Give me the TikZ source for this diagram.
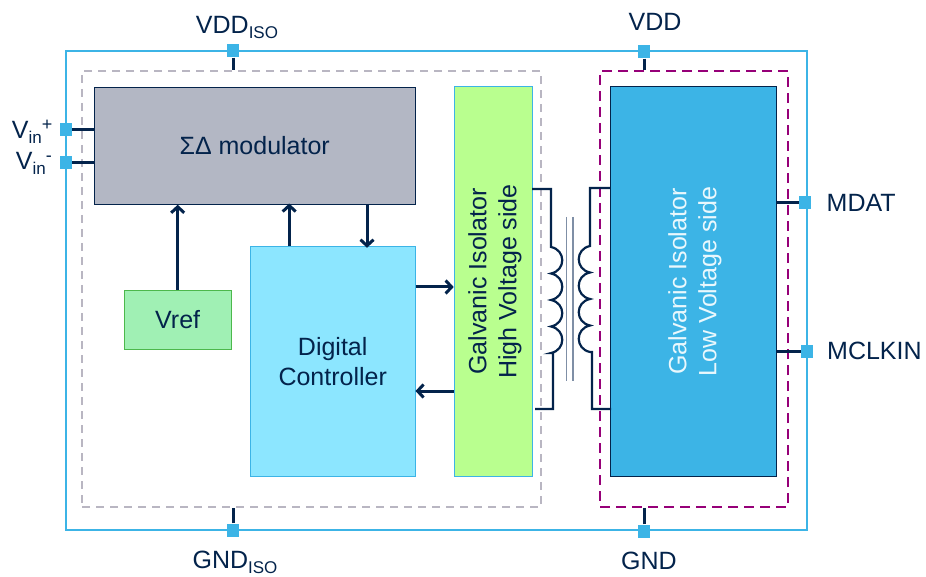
\documentclass[tikz,border=0pt]{standalone}
\usepackage{fontspec}
\setmainfont{Liberation Sans}
\usetikzlibrary{arrows.meta}
\definecolor{navy}{HTML}{03234B}
\definecolor{stblue}{HTML}{3CB4E6}
\definecolor{lightcyan}{HTML}{8CE6FF}
\definecolor{slategrey}{HTML}{B3B7C4}
\definecolor{limegreen}{HTML}{B9FF8F}
\definecolor{mintgreen}{HTML}{A0F0B4}
\definecolor{dashgrey}{HTML}{B9B6C2}
\definecolor{plum}{HTML}{960078}
\definecolor{coregrey}{HTML}{7F8FA6}
\definecolor{palelabel}{HTML}{EAF8FD}
\newcommand{\lowtxt}[1]{\raisebox{-5pt}{\fontsize{17}{17}\selectfont #1}}
\newcommand{\hightxt}[1]{\raisebox{8pt}{\fontsize{18}{18}\selectfont #1}}
\tikzset{
    blockbox/.style={rectangle, draw, inner sep=0pt, line width=1pt, text=navy, align=center},
    pinbox/.style={rectangle, fill=stblue, inner sep=0pt, minimum width=12pt, minimum height=13pt},
    pinlabel/.style={text=navy},
    wire/.style={draw=navy, line width=3pt},
    sigarrow/.style={wire, ->}
}
\begin{document}
\begin{tikzpicture}[
                        x=1pt, y=-1pt,
                        >={Straight Barb[length=6pt,width=13pt,line width=3pt]},
                        every node/.append style={font=\fontsize{25}{30}\selectfont}
                    ]
                    \useasboundingbox (0,0) rectangle (926,577);
                    % Frames
                    \node [draw=stblue, line width=1.5pt, inner sep=0pt, minimum width=741pt, minimum height=479pt] (chip) at (436.5,290.5) {};
                    \node [draw=dashgrey, dash pattern=on 8pt off 6pt, line width=2.2pt, inner sep=0pt, minimum width=459pt, minimum height=436pt] (isoframe) at (311.5,289) {};
                    \node [draw=plum, dash pattern=on 10pt off 6pt, line width=2.5pt, inner sep=0pt, minimum width=188pt, minimum height=436pt] (lowframe) at (694,289) {};

                    % Blocks
                    \node [blockbox, draw=navy, fill=slategrey, minimum width=321pt, minimum height=116.5pt] (modulator) at (254.7,146) {ΣΔ modulator};
                    \node [blockbox, draw=stblue, fill=limegreen, minimum width=78pt, minimum height=389pt] (hvside) at (493,281.5) {};
                    \node [rotate=90, text=navy, align=center] (hvtext) at (495,281.5) {Galvanic Isolator\\High Voltage side};
                    \node [blockbox, draw=stblue, fill=lightcyan, minimum width=165pt, minimum height=229pt] (controller) at (332.7,361.5) {Digital\\Controller};
                    \node [blockbox, draw=green!60!black!70, line width=0.6pt, fill=mintgreen, minimum width=107.5pt, minimum height=59pt] (vref) at (177.7,319.5) {Vref};
                    \node [blockbox, draw=navy, fill=stblue, minimum width=166pt, minimum height=389pt] (lvside) at (693,281.5) {};
                    \node [rotate=90, text=palelabel, align=center] (lvtext) at (695,281.5) {Galvanic Isolator\\Low Voltage side};

                    % Pins
                    \node [pinbox] (vddiso) at (233,51) {};
                    \node [pinbox] (vdd) at (644,52) {};
                    \node [pinbox] (gndiso) at (233,530) {};
                    \node [pinbox] (gnd) at (644,531) {};
                    \node [pinbox] (vinp) at (66,130) {};
                    \node [pinbox] (vinm) at (66,163) {};
                    \node [pinbox] (mdat) at (805,203) {};
                    \node [pinbox] (mclkin) at (807,351) {};

                    % Labels
                    \node [pinlabel] (vddisolabel) at (237,27) {VDD\lowtxt{ISO}};
                    \node [pinlabel] (vddlabel) at (655,22) {VDD};
                    \node [pinlabel] (gndisolabel) at (235,562) {GND\lowtxt{ISO}};
                    \node [pinlabel] (gndlabel) at (649,561) {GND};
                    \node [pinlabel, anchor=east, inner sep=0pt] (vinplabel) at (52.5,132) {V\lowtxt{in}\hightxt{+}};
                    \node [pinlabel, anchor=east, inner sep=0pt] (vinmlabel) at (52,163) {V\lowtxt{in}\hightxt{-}};
                    \node [pinlabel, anchor=west, inner sep=0pt] (mdatlabel) at (826.5,203) {MDAT};
                    \node [pinlabel, anchor=west, inner sep=0pt] (mclkinlabel) at (827,351) {MCLKIN};

                    % Connections
                    \draw [wire] (vddiso) -- (vddiso |- isoframe.north);
                    \draw [wire] (vdd) -- (vdd |- lowframe.north);
                    \draw [wire] (gndiso) -- (gndiso |- isoframe.south);
                    \draw [wire] (gnd) -- (gnd |- lowframe.south);
                    \draw [wire] (vinp) -- (vinp -| modulator.west);
                    \draw [wire] (vinm) -- (vinm -| modulator.west);
                    \draw [wire] (mdat) -- (mdat -| lvside.east);
                    \draw [wire] (mclkin) -- (mclkin -| lvside.east);
                    \draw [sigarrow] (vref.north) -- (vref.north |- modulator.south);
                    \draw [sigarrow] (controller.north) ++(-43.5,0) -- ++(0,-43);
                    \draw [sigarrow] (modulator.south) ++(112.3,0) -- ++(0,43);
                    \draw [sigarrow] (controller.east) ++(0,-74.5) -- ++(38,0);
                    \draw [sigarrow] (hvside.west) ++(0,109.5) -- ++(-38,0);

                    % Transformer
                    \coordinate (hvtop) at (532,189);
                    \coordinate (hvbot) at (535,409);
                    \coordinate (lvtop) at (610,188);
                    \coordinate (lvbot) at (611,409);
                    \draw [navy, line width=2.2pt] (hvtop) -- (551,189) -- (551,247)
                        \foreach \ypos in {247,273.5,300,326.5} { .. controls (566,\ypos+3) and (566,\ypos+23.5) .. (551,\ypos+26.5) }
                        -- (553,353) -- (553,409) -- (hvbot);
                    \draw [navy, line width=2.2pt] (lvtop) -- (590,188) -- (590,246)
                        \foreach \ypos in {246,272.5,299,325.5} { .. controls (575,\ypos+3) and (575,\ypos+23.5) .. (590,\ypos+26.5) }
                        -- (592,352) -- (592,409) -- (lvbot);
                    \draw [coregrey, line width=1.3pt] (566.5,217) -- (566.5,381);
                    \draw [coregrey, line width=1.3pt] (573,217) -- (573,381);
                \end{tikzpicture}
\end{document}
